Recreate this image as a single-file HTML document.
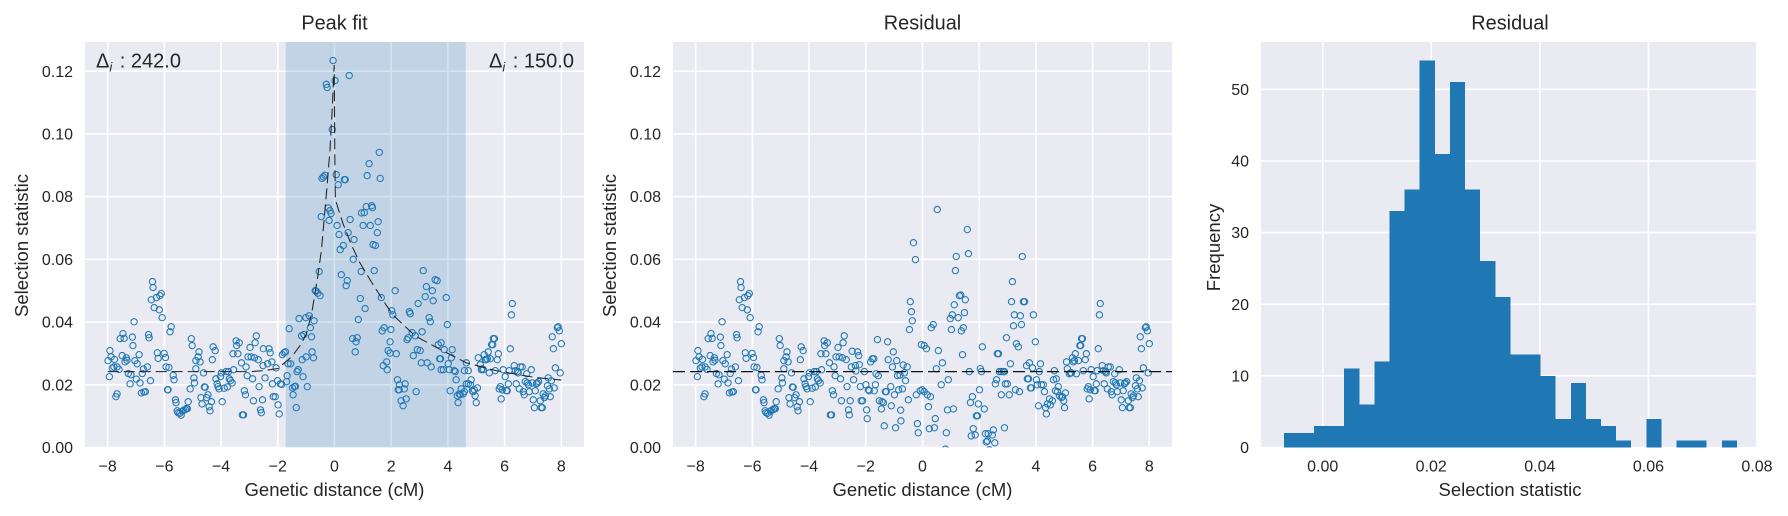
<!DOCTYPE html>
<html lang="en">
<head>
<meta charset="utf-8">
<title>Peak fit and residual charts</title>
<style>
html,body{margin:0;padding:0;background:#fff;width:1788px;height:516px;overflow:hidden}
svg{display:block}
text{font-family:"Liberation Sans",Arial,sans-serif;fill:#262626}
.title{font-size:19.9px;text-anchor:middle}
.label{font-size:18.5px;text-anchor:middle}
.tick{font-size:16px}
.note{font-size:20px}
</style>
</head>
<body>
<svg id="figure" width="1788" height="516" viewBox="0 0 1788 516" xmlns="http://www.w3.org/2000/svg">
  <rect x="0" y="0" width="1788" height="516" fill="#ffffff"/>
  <defs>
    <clipPath id="clip-a"><rect x="85" y="42" width="499" height="405.5"/></clipPath>
    <clipPath id="clip-b"><rect x="673" y="42" width="499" height="405.5"/></clipPath>
    <clipPath id="clip-c"><rect x="1261" y="42" width="496" height="405.5"/></clipPath>
  </defs>
  <g id="panel-a"></g>
  <g id="panel-b"></g>
  <g id="panel-c"></g>

  <text class="title" x="334.5" y="29.5">Peak fit</text>
  <text class="title" x="922.5" y="29.5">Residual</text>
  <text class="title" x="1510" y="29.5">Residual</text>

  <text class="label" x="334.5" y="496">Genetic distance (cM)</text>
  <text class="label" x="922.5" y="496">Genetic distance (cM)</text>
  <text class="label" x="1510" y="496">Selection statistic</text>

  <text class="label" transform="translate(28 245.5) rotate(-90)">Selection statistic</text>
  <text class="label" transform="translate(616 245.5) rotate(-90)">Selection statistic</text>
  <text class="label" transform="translate(1220 247.5) rotate(-90)">Frequency</text>
</svg>
<script>
const flankLeftX = [-7.99,-7.92,-7.94,-7.88,-7.76,-7.84,-7.78,-7.67,-7.60,-7.71,-7.67,-7.56,-7.46,-7.42,-7.49,-7.34,-7.39,-7.32,-7.27,-7.21,-7.18,-7.13,-7.11,-7.07,-7.04,-6.99,-6.96,-6.89,-6.86,-6.81,-6.78,-6.74,-6.72,-6.67,-6.60,-6.56,-6.54,-6.49,-6.42,-6.40,-6.46,-6.36,-6.28,-6.18,-6.16,-6.11,-6.08,-6.25,-6.22,-6.01,-5.96,-5.94,-5.84,-5.89,-5.87,-5.80,-5.76,-5.69,-5.66,-5.61,-5.59,-5.55,-5.52,-5.46,-5.41,-5.36,-5.32,-5.26,-5.22,-5.19,-5.16,-5.09,-5.05,-5.02,-4.96,-4.94,-4.89,-4.89,-4.81,-4.78,-4.74,-4.71,-4.67,-4.62,-4.59,-4.56,-4.51,-4.46,-4.42,-4.39,-4.34,-4.31,-4.28,-4.21,-4.18,-4.14,-4.11,-4.07,-4.02,-3.99,-3.96,-3.89,-3.82,-3.78,-3.74,-3.71,-3.67,-3.61,-3.56,-3.58,-3.47,-3.45,-3.41,-3.36,-3.28,-3.25,-3.21,-3.18,-3.14,-3.12,-3.08,-3.05,-2.98,-2.94,-2.89,-2.86,-2.82,-2.80,-2.76,-2.69,-2.66,-2.61];
const flankLeftY = [.0277,.0309,.0226,.0289,.0281,.0253,.0257,.0257,.0249,.0162,.0171,.0347,.0363,.0348,.0293,.0286,.0273,.0278,.0236,.0203,.0232,.0352,.0325,.0401,.0277,.0218,.0267,.0296,.0206,.0174,.0236,.0250,.0177,.0178,.0257,.0360,.0350,.0213,.0529,.0510,.0471,.0446,.0478,.0439,.0484,.0491,.0414,.0302,.0284,.0300,.0287,.0257,.0255,.0184,.0184,.0369,.0385,.0230,.0216,.0152,.0143,.0117,.0111,.0109,.0103,.0116,.0119,.0121,.0124,.0124,.0146,.0187,.0347,.0325,.0222,.0206,.0251,.0277,.0289,.0305,.0273,.0159,.0139,.0238,.0193,.0192,.0159,.0168,.0130,.0117,.0146,.0280,.0321,.0309,.0219,.0203,.0194,.0187,.0226,.0238,.0146,.0189,.0242,.0193,.0242,.0219,.0213,.0206,.0248,.0299,.0340,.0325,.0299,.0334,.0270,.0104,.0104,.0181,.0168,.0257,.0229,.0289,.0319,.0289,.0219,.0149,.0286,.0334,.0356,.0280,.0194,.0120];

const flankRightX = [5.67,5.74,5.78,5.81,5.85,5.88,5.92,5.95,6.02,6.06,6.09,6.13,6.20,6.27,6.24,6.16,6.34,6.38,6.41,6.45,6.48,6.52,6.55,6.62,6.66,6.69,6.73,6.78,6.80,6.84,6.87,6.94,6.98,7.05,7.01,7.08,7.12,7.15,7.20,7.26,7.29,7.33,7.36,7.40,7.44,7.51,7.54,7.58,7.61,7.65,7.68,7.72,7.75,7.79,7.86,7.89,7.93,7.96,8.00];
const flankRightY = [.0245,.0280,.0299,.0187,.0194,.0155,.0184,.0248,.0226,.0181,.0181,.0203,.0315,.0459,.0423,.0245,.0261,.0245,.0203,.0242,.0238,.0187,.0257,.0257,.0178,.0168,.0210,.0235,.0206,.0200,.0178,.0248,.0206,.0127,.0152,.0181,.0203,.0206,.0210,.0149,.0127,.0127,.0171,.0159,.0165,.0197,.0222,.0187,.0162,.0213,.0353,.0315,.0190,.0254,.0382,.0385,.0372,.0238,.0331];

const peakCoreX = [-2.58,-2.54,-2.51,-2.52,-2.45,-2.36,-2.31,-2.27,-2.21,-2.19,-2.16,-2.09,-2.06,-2.01,-1.99,-1.95,-1.91,-1.86,-1.84,-1.78,-1.73,-1.69,-1.67,-1.64,-1.60,-1.55,-1.48,-1.46,-1.41,-1.38,-1.35,-1.32,-1.28,-1.25,-1.14,-1.16,-1.08,-1.11,-1.01,-1.00,-0.96,-0.89,-0.85,-0.81,-0.79,-0.74,-0.72,-0.68,-0.65,-0.59,-0.54,-0.51,
-0.05,0.52,0.02,-0.29,-0.26,-0.08,
1.58,1.22,1.15,1.61,0.06,-0.34,-0.39,-0.44,0.35,0.38,0.13,-0.22,-0.16,-0.12,-0.47,-0.19,0.09,1.12,1.31,1.34,0.95,1.05,0.55,1.54,1.01,1.26,1.51,0.16,0.48,0.69,0.31,0.20,1.36,1.44,
0.66,0.24,0.94,1.40,0.45,0.41,0.91,1.65,1.08,0.84,2.02,2.06,1.75,1.68,1.99,0.64,0.80,0.76,1.96,0.73,1.89,1.96,1.72,1.84,1.86,
2.14,3.13,3.24,3.45,3.55,3.62,3.20,3.48,3.94,2.95,2.64,2.67,3.34,3.38,3.98,2.74,3.09,2.85,2.60,2.56,2.92,3.02,2.78,3.66,3.76,3.87,4.15,2.18,3.71,3.74,4.12,3.06,3.27,3.41,4.01,3.76,3.84,4.05,4.22,4.26,4.29,4.65,4.58,4.72,2.22,2.29,2.49,2.25,2.28,2.46,2.35,2.53,2.42,2.88,4.08,4.33,4.40,4.47,4.44,4.54,4.58,4.36,4.65,4.72,4.82,4.79,4.86,4.89,4.93,4.96,5.00,5.04,5.07,5.14,5.18,5.21,5.25,5.28,5.32,5.35,5.39,5.42,5.49,5.46,5.54,5.58,5.60,5.64];
const peakCoreY = [.0111,.0152,.0315,.0261,.0222,.0267,.0315,.0302,.0273,.0203,.0162,.0162,.0254,.0213,.0136,.0107,.0203,.0201,.0296,.0302,.0305,.0210,.0229,.0267,.0379,.0267,.0190,.0168,.0194,.0195,.0127,.0242,.0248,.0411,.0280,.0356,.0360,.0226,.0414,.0289,.0194,.0420,.0382,.0353,.0305,.0286,.0404,.0500,.0499,.0492,.0561,.0484,
.1234,.1186,.1170,.1158,.1148,.1014,
.0941,.0905,.0867,.0858,.0870,.0868,.0863,.0858,.0854,.0854,.0838,.0764,.0755,.0746,.0736,.0724,.0708,.0768,.0771,.0765,.0748,.0749,.0727,.0720,.0708,.0708,.0685,.0679,.0685,.0663,.0644,.0631,.0647,.0644,
.0600,.0551,.0561,.0564,.0532,.0516,.0475,.0478,.0443,.0408,.0436,.0423,.0382,.0372,.0376,.0347,.0350,.0337,.0337,.0305,.0309,.0301,.0261,.0273,.0248,
.0500,.0564,.0513,.0500,.0535,.0532,.0481,.0468,.0478,.0459,.0433,.0427,.0414,.0401,.0392,.0366,.0369,.0356,.0350,.0344,.0312,.0309,.0293,.0328,.0334,.0312,.0312,.0299,.0283,.0283,.0286,.0270,.0270,.0257,.0267,.0248,.0248,.0248,.0245,.0242,.0216,.0270,.0245,.0245,.0216,.0200,.0203,.0184,.0184,.0187,.0149,.0155,.0133,.0178,.0181,.0165,.0171,.0187,.0168,.0171,.0178,.0143,.0203,.0203,.0216,.0200,.0181,.0178,.0184,.0165,.0143,.0190,.0286,.0264,.0248,.0251,.0248,.0296,.0280,.0280,.0283,.0305,.0283,.0238,.0328,.0328,.0347,.0347];

const residCoreX = [-2.58,-2.55,-2.48,-2.51,-2.43,-2.37,-2.35,-2.29,-2.25,-2.23,-2.19,-2.16,-2.11,-2.05,-2.00,-1.97,-1.95,-1.91,-1.88,-1.83,-1.77,-1.72,-1.70,-1.66,-1.64,-1.59,-1.56,-1.52,-1.45,-1.43,-1.38,-1.35,-1.31,-1.28,-1.23,-1.21,-1.12,-1.10,-1.06,-1.03,-0.99,-0.95,-0.91,-0.88,-0.84,-0.76,-0.77,
-0.68,-0.54,-0.79,-0.64,-0.60,-0.71,-0.50,-0.43,-0.39,-0.36,-0.46,-0.04,0.06,0.14,-0.22,-0.08,-0.01,0.06,0.17,0.28,0.21,-0.18,-0.15,0.56,0.31,0.38,0.49,0.70,0.66,0.91,0.88,1.09,0.45,0.42,0.24,0.84,0.81,
1.16,1.12,1.05,0.98,1.02,1.26,1.30,1.35,1.51,1.48,1.44,1.37,1.41,1.65,1.76,1.69,1.97,2.01,2.18,1.90,1.94,1.79,1.86,1.72,2.11,2.04,2.08,2.22,2.32,2.50,2.46,2.25,2.29,2.55,2.36,2.61,2.57,2.64,2.68,2.71,2.78,2.85,2.89,2.78,2.92,2.99,3.06,2.89,2.96,3.10,3.28,3.42,3.17,3.14,3.24,3.45,3.21,3.49,3.31,3.38,3.56,3.60,3.91,3.98,3.77,3.67,3.88,3.70,3.74,3.81,3.84,4.02,4.05,4.16,4.12,4.19,4.26,4.30,4.09,4.65,4.62,4.72,4.79,4.69,4.76,4.83,4.94,4.90,5.04,4.98,5.01,4.34,4.37,4.41,4.48,4.51,4.58,5.08,5.11,5.18,5.25,5.22,5.29,5.32,5.36,5.39,5.43,5.50,5.55,5.58,5.61,5.64,
0.52,1.58,-0.32,-0.25,1.19,1.62,3.52];
const residCoreY = [.0104,.0149,.0307,.0257,.0216,.0261,.0244,.0305,.0293,.0264,.0194,.0149,.0149,.0242,.0200,.0120,.0092,.0184,.0181,.0273,.0283,.0283,.0181,.0200,.0235,.0344,.0229,.0149,.0123,.0146,.0143,.0069,.0178,.0178,.0337,.0280,.0194,.0133,.0257,.0305,.0168,.0063,.0277,.0229,.0184,.0085,.0119,
.0263,.0257,.0231,.0238,.0213,.0187,.0152,.0465,.0433,.0404,.0376,.0328,.0325,.0315,.0168,.0181,.0184,.0178,.0168,.0162,.0130,.0076,.0047,.0309,.0382,.0392,.0251,.0270,.0200,.0216,.0120,.0123,.0092,.0063,.0060,.0047,-.0005,
.0564,.0455,.0423,.0411,.0376,.0414,.0484,.0486,.0471,.0430,.0382,.0372,.0296,.0242,.0162,.0143,.0139,.0184,.0123,.0101,.0101,.0060,.0040,.0037,.0321,.0251,.0242,.0044,.0044,.0056,.0040,.0018,.0021,.0015,-.0007,.0216,.0203,.0299,.0299,.0242,.0242,.0242,.0242,.0168,.0203,.0203,.0168,.0063,.0350,.0267,.0184,.0178,.0529,.0465,.0423,.0420,.0388,.0392,.0331,.0321,.0465,.0465,.0423,.0337,.0270,.0261,.0254,.0219,.0219,.0190,.0190,.0216,.0200,.0267,.0242,.0200,.0200,.0178,.0133,.0245,.0216,.0219,.0194,.0181,.0178,.0165,.0162,.0159,.0174,.0149,.0127,.0127,.0107,.0139,.0155,.0136,.0149,.0273,.0251,.0235,.0238,.0238,.0286,.0273,.0277,.0299,.0235,.0277,.0325,.0325,.0347,.0347,
.0759,.0695,.0653,.0599,.0609,.0618,.0609];

const fitX = [-8,-3,-2.5,-2,-1.5,-1.2,-1,-0.8,-0.6,-0.46,-0.28,-0.16,-0.08,-0.01,0.01,0.03,0.3,0.6,0.89,1.3,1.83,2.07,2.84,3.66,4.65,5.7,7.1,8];
const fitY = [.0242,.0242,.0245,.0252,.029,.0327,.036,.043,.054,.063,.0815,.0948,.108,.122,.094,.079,.0714,.0645,.059,.0528,.0453,.0422,.0356,.0316,.027,.0245,.0223,.0215];

const residualBaseline = [.0242];
const peakSpan = [-1.72, 4.63];
const peakNotes = [242.0, 150.0];

const distanceTicks = [-8,-6,-4,-2,0,2,4,6,8];
const selectionTicks = [0,.02,.04,.06,.08,.10,.12];
const histValueTicks = [0,.02,.04,.06,.08];
const frequencyTicks = [0,10,20,30,40,50];
const binCounts = [2,2,3,3,11,6,12,33,36,54,41,51,36,26,21,13,13,10,4,9,4,3,1,0,4,0,1,1,0,1];
const binRange = [-.00716, .0763];

const NS = 'http://www.w3.org/2000/svg';

function node(tag, parent, name, attrs) {
  const el = document.createElementNS(NS, tag);
  for (const k in attrs) el.setAttribute(k, attrs[k]);
  
  
  parent.appendChild(el);
  return el;
}

function linear(d0, d1, r0, r1) {
  return function (v) { return r0 + (v - d0) / (d1 - d0) * (r1 - r0); };
}

function labelText(v, digits) {
  const s = Math.abs(v).toFixed(digits);
  return (v < 0 ? '\u2212' : '') + s;
}

function frame(g, box, sx, sy, xTicks, yTicks, xDigits, yDigits) {
  node('rect', g, 'plot-background', {x: box.l, y: box.t, width: box.r - box.l, height: box.b - box.t, fill: '#eaeaf2'});
  yTicks.forEach(function (t) {
    node('line', g, 'horizontal-gridline', {x1: box.l, x2: box.r, y1: sy(t), y2: sy(t), stroke: '#ffffff', 'stroke-width': 1.6});
    const lab = node('text', g, 'y-tick-label', {class: 'tick', x: box.l - 12, y: sy(t) + 5.6, 'text-anchor': 'end'});
    lab.textContent = labelText(t, yDigits);
  });
  xTicks.forEach(function (t) {
    node('line', g, 'vertical-gridline', {x1: sx(t), x2: sx(t), y1: box.t, y2: box.b, stroke: '#ffffff', 'stroke-width': 1.6});
    const lab = node('text', g, 'x-tick-label', {class: 'tick', x: sx(t), y: 471.5, 'text-anchor': 'middle'});
    lab.textContent = labelText(t, xDigits);
  });
}

function points(g, clip, sx, sy, xs, ys) {
  const wrap = node('g', g, 'scatter-points', {'clip-path': 'url(#' + clip + ')'});
  xs.forEach(function (x, i) {
    node('circle', wrap, 'selection-point', {cx: sx(x).toFixed(2), cy: sy(ys[i]).toFixed(2), r: 3.15, fill: 'none', stroke: '#1f77b4', 'stroke-width': 1.05});
  });
}

function note(g, x, y, value) {
  const t = node('text', g, 'peak-width-annotation', {class: 'note', x: x, y: y});
  const d = document.createElementNS(NS, 'tspan');
  d.textContent = '\u0394';
  t.appendChild(d);
  const s = document.createElementNS(NS, 'tspan');
  s.setAttribute('font-size', '13');
  s.setAttribute('font-style', 'italic');
  s.setAttribute('dy', '4');
  s.textContent = 'i';
  t.appendChild(s);
  const v = document.createElementNS(NS, 'tspan');
  v.setAttribute('dy', '-4');
  v.setAttribute('dx', '2');
  v.textContent = ' : ' + value.toFixed(1);
  t.appendChild(v);
}

/* Panel A: peak fit */
(function () {
  const g = document.getElementById('panel-a');
  const box = {l: 85, r: 584, t: 42, b: 447.5};
  const sx = linear(-8.8, 8.8, box.l, box.r);
  const sy = linear(0, .1293, box.b, box.t);
  frame(g, box, sx, sy, distanceTicks, selectionTicks, 0, 2);
  node('rect', g, 'peak-region-span', {x: sx(peakSpan[0]), y: box.t, width: sx(peakSpan[1]) - sx(peakSpan[0]), height: box.b - box.t, fill: '#1f77b4', 'fill-opacity': .2});
  points(g, 'clip-a', sx, sy, flankLeftX.concat(peakCoreX, flankRightX), flankLeftY.concat(peakCoreY, flankRightY));
  const d = fitX.map(function (x, i) { return sx(x).toFixed(2) + ',' + sy(fitY[i]).toFixed(2); }).join(' ');
  node('polyline', g, 'peak-fit-curve', {points: d, fill: 'none', stroke: '#222222', 'stroke-width': 1.05, 'stroke-dasharray': '11 5'});
  note(g, 96, 67.7, peakNotes[0]);
  note(g, 489, 67.7, peakNotes[1]);
})();

/* Panel B: residual scatter */
(function () {
  const g = document.getElementById('panel-b');
  const box = {l: 673, r: 1172, t: 42, b: 447.5};
  const sx = linear(-8.8, 8.8, box.l, box.r);
  const sy = linear(0, .1293, box.b, box.t);
  frame(g, box, sx, sy, distanceTicks, selectionTicks, 0, 2);
  points(g, 'clip-b', sx, sy, flankLeftX.concat(residCoreX, flankRightX), flankLeftY.concat(residCoreY, flankRightY));
  node('line', g, 'residual-baseline', {x1: box.l, x2: box.r, y1: sy(residualBaseline[0]), y2: sy(residualBaseline[0]), stroke: '#111111', 'stroke-width': 1.2, 'stroke-dasharray': '12 5'});
})();

/* Panel C: histogram */
(function () {
  const g = document.getElementById('panel-c');
  const box = {l: 1261, r: 1757, t: 42, b: 447.5};
  const sx = linear(-.01136, .08, box.l, box.r);
  const sy = linear(0, 56.6, box.b, box.t);
  frame(g, box, sx, sy, histValueTicks, frequencyTicks, 2, 0);
  const w = (binRange[1] - binRange[0]) / binCounts.length;
  binCounts.forEach(function (c, i) {
    if (!c) return;
    const x0 = sx(binRange[0] + i * w);
    const x1 = sx(binRange[0] + (i + 1) * w);
    node('rect', g, 'histogram-bar', {x: x0.toFixed(2), y: sy(c).toFixed(2), width: (x1 - x0).toFixed(2), height: (box.b - sy(c)).toFixed(2), fill: '#1f77b4', 'shape-rendering': 'crispEdges'});
  });
})();
</script>
</body>
</html>
